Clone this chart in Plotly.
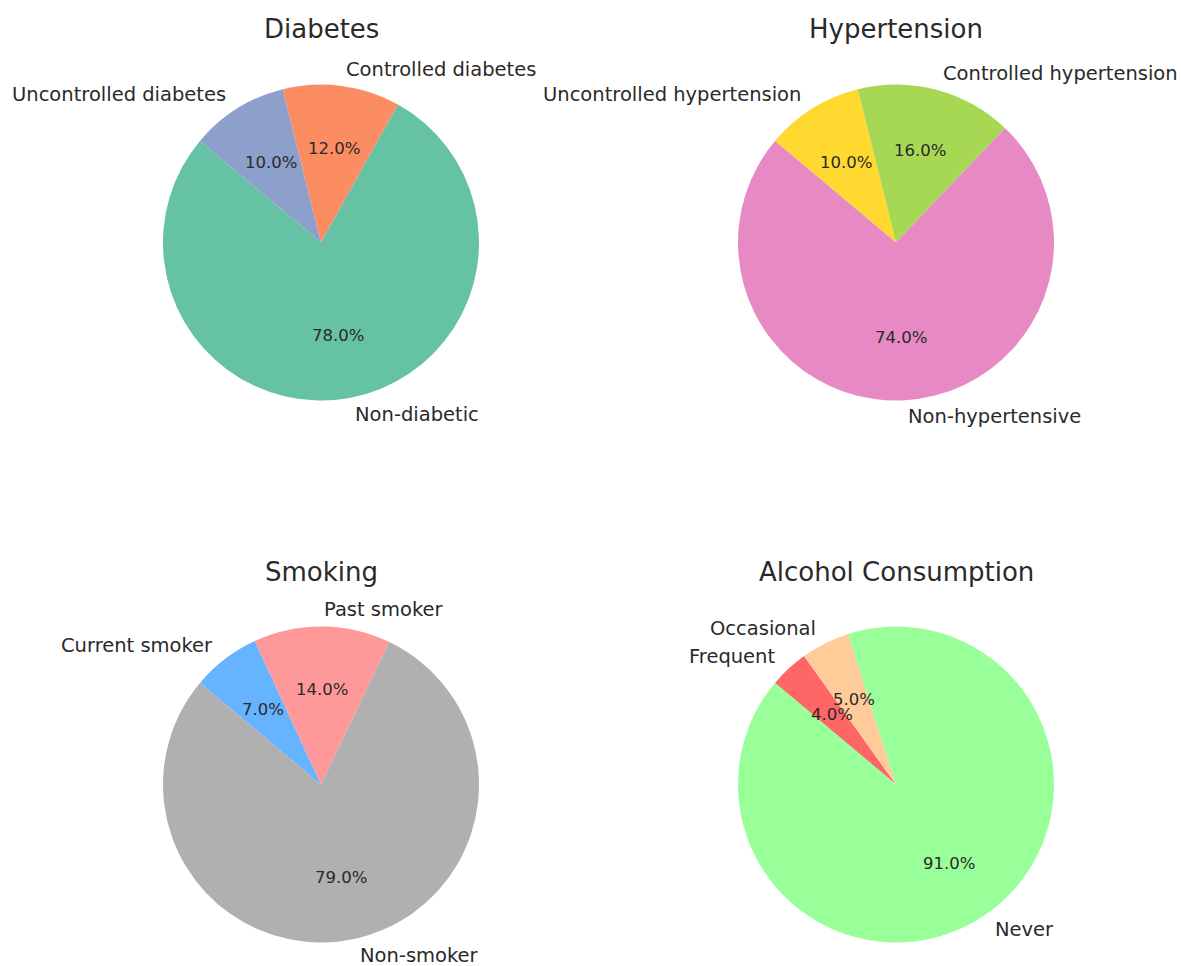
import math
import plotly.graph_objects as go

# ---- data -------------------------------------------------------------
diabetes_labels = ["Non-diabetic", "Controlled diabetes", "Uncontrolled diabetes"]
diabetes_values = [78, 12, 10]
diabetes_colors = ["#66c2a5", "#fc8d62", "#8da0cb"]

hypertension_labels = ["Non-hypertensive", "Controlled hypertension", "Uncontrolled hypertension"]
hypertension_values = [74, 16, 10]
hypertension_colors = ["#e78ac3", "#a6d854", "#ffd92f"]

smoking_labels = ["Non-smoker", "Past smoker", "Current smoker"]
smoking_values = [79, 14, 7]
smoking_colors = ["#b0b0b0", "#ff9999", "#66b3ff"]

alcohol_labels = ["Never", "Occasional", "Frequent"]
alcohol_values = [91, 5, 4]
alcohol_colors = ["#99ff99", "#ffcc99", "#ff6666"]

titles = ["Diabetes", "Hypertension", "Smoking", "Alcohol Consumption"]

# ---- layout geometry (pixels) ------------------------------------------
W, H = 1181, 966
RADIUS = 158
CENTERS = [(321, 242.5), (896, 242.5), (321, 784.5), (896, 784.5)]
TITLE_GAP = 213          # title cap-centre above pie centre
START_ANGLE = 140        # first wedge starts here, wedges run counter-clockwise
LABEL_DIST = 1.105
PCT_DIST = 0.6

FONT = "DejaVu Sans"
TEXT_COLOR = "#2a2a2a"


def px_to_paper(x, y):
    return x / W, 1 - y / H


panels = [
    (diabetes_labels, diabetes_values, diabetes_colors),
    (hypertension_labels, hypertension_values, hypertension_colors),
    (smoking_labels, smoking_values, smoking_colors),
    (alcohol_labels, alcohol_values, alcohol_colors),
]

fig = go.Figure()
annotations = []

for (labels, values, colors), (cx, cy), title in zip(panels, CENTERS, titles):
    x0, y1 = px_to_paper(cx - RADIUS, cy - RADIUS)
    x1, y0 = px_to_paper(cx + RADIUS, cy + RADIUS)
    # Wedges listed in reverse and drawn clockwise from START_ANGLE, which
    # is the same arrangement as the forward order drawn counter-clockwise.
    fig.add_trace(go.Pie(
        labels=labels[::-1],
        values=values[::-1],
        marker=dict(colors=colors[::-1], line=dict(width=0)),
        sort=False,
        direction="clockwise",
        rotation=90 - START_ANGLE,
        textinfo="none",
        hoverinfo="label+percent",
        showlegend=False,
        domain=dict(x=[x0, x1], y=[y0, y1]),
    ))

    total = sum(values)
    angle = START_ANGLE
    for lab, val in zip(labels, values):
        span = 360 * val / total
        mid = math.radians(angle + span / 2)
        angle += span
        c, s = math.cos(mid), math.sin(mid)

        lx, ly = px_to_paper(cx + LABEL_DIST * RADIUS * c, cy - LABEL_DIST * RADIUS * s)
        annotations.append(dict(
            x=lx, y=ly, xref="paper", yref="paper", text=lab, showarrow=False,
            xanchor="left" if c > 0 else "right", yanchor="middle",
            font=dict(family=FONT, size=19.5, color=TEXT_COLOR),
        ))

        px, py = px_to_paper(cx + PCT_DIST * RADIUS * c, cy - PCT_DIST * RADIUS * s)
        annotations.append(dict(
            x=px, y=py, xref="paper", yref="paper", text=f"{100 * val / total:.1f}%",
            showarrow=False, xanchor="center", yanchor="middle",
            font=dict(family=FONT, size=16.5, color=TEXT_COLOR),
        ))

    tx, ty = px_to_paper(cx, cy - TITLE_GAP)
    annotations.append(dict(
        x=tx, y=ty, xref="paper", yref="paper", text=title, showarrow=False,
        xanchor="center", yanchor="middle",
        font=dict(family=FONT, size=26, color=TEXT_COLOR),
    ))

fig.update_layout(
    width=W, height=H,
    margin=dict(l=0, r=0, t=0, b=0),
    paper_bgcolor="white",
    plot_bgcolor="white",
    annotations=annotations,
)

fig.write_html("out.html")
